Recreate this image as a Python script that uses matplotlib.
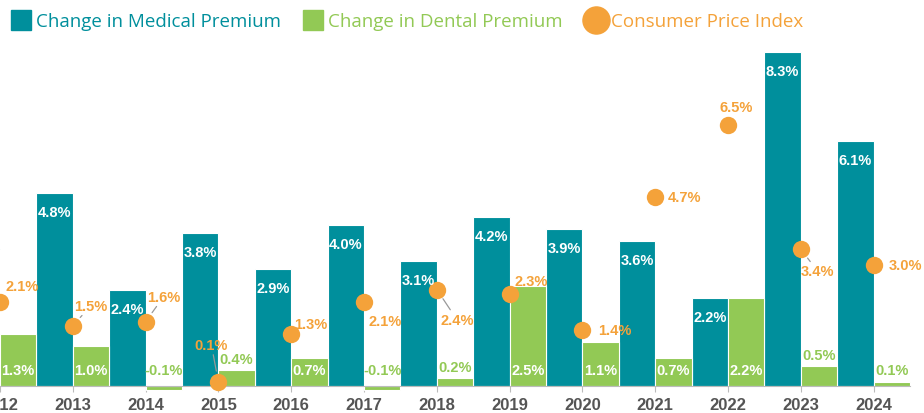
import matplotlib as mpl
mpl.use('Agg')
import matplotlib.pyplot as plt
from matplotlib.lines import Line2D
import numpy as np

years = ["2012", "2013", "2014", "2015", "2016", "2017", "2018",
         "2019", "2020", "2021", "2022", "2023", "2024"]
medical = [3.4, 4.8, 2.4, 3.8, 2.9, 4.0, 3.1, 4.2, 3.9, 3.6, 2.2, 8.3, 6.1]
dental = [1.3, 1.0, -0.1, 0.4, 0.7, -0.1, 0.2, 2.5, 1.1, 0.7, 2.2, 0.5, 0.1]
cpi = [2.1, 1.5, 1.6, 0.1, 1.3, 2.1, 2.4, 2.3, 1.4, 4.7, 6.5, 3.4, 3.0]

# label offsets in pixels for the CPI values, and which ones get a leader line
cpi_off = [(22, 16), (18, 20), (18, 25), (-7, 37), (20, 10), (21, -19), (20, -30),
           (22, 13), (32, 0), (29, 0), (8, 18), (17, -22), (32, 0)]
cpi_line = [False, True, True, True, False, False, True,
            False, False, False, False, True, False]

TEAL = "#008F9C"
GREEN = "#92C955"
ORANGE = "#F4A23A"
GREY = "#555555"

fig = plt.figure(figsize=(9.24, 4.14), dpi=100)
ax = fig.add_axes([0, 27 / 414, 910 / 924, 387 / 414])
x = np.arange(len(years))
w = 0.5
px = 40.2  # pixels per percent

ax.bar(x - w / 2, medical, w, color=TEAL, edgecolor="white", linewidth=0.8, zorder=2)
ax.bar(x + w / 2, dental, w, color=GREEN, edgecolor="white", linewidth=0.8, zorder=2, clip_on=False)
ax.plot(x, cpi, "o", color=ORANGE, markersize=12.5, markeredgewidth=0, zorder=4, clip_on=False)

lab = dict(fontsize=10.5, fontweight="bold", family="Liberation Sans", ha="center", va="center")
for i in range(len(years)):
    ax.annotate(f"{medical[i]:.1f}%", (x[i] - w / 2, medical[i]), xytext=(0, -19),
                textcoords="offset pixels", color="white", zorder=5, **lab)
    if dental[i] >= 0.6:
        ax.annotate(f"{dental[i]:.1f}%", (x[i] + w / 2, 0), xytext=(0, 16),
                    textcoords="offset pixels", color="white", zorder=5, **lab)
    else:
        up = max(16, max(dental[i], 0) * px + 11)
        ax.annotate(f"{dental[i]:.1f}%", (x[i] + w / 2, 0), xytext=(0, up),
                    textcoords="offset pixels", color=GREEN, zorder=5, **lab)
    dx, dy = cpi_off[i]
    arrow = dict(arrowstyle="-", color="#999999", lw=0.9, shrinkA=0, shrinkB=8) if cpi_line[i] else None
    ax.annotate(f"{cpi[i]:.1f}%", (x[i], cpi[i]), xytext=(dx, dy), textcoords="offset pixels",
                color=ORANGE, zorder=3, arrowprops=arrow, annotation_clip=False, **lab)

ax.set_xlim(0, 12.5)
ax.set_ylim(0, 387 / px)
for s in ["top", "right", "left"]:
    ax.spines[s].set_visible(False)
ax.spines["bottom"].set_color("#BBBBBB")
ax.spines["bottom"].set_zorder(3)
ax.set_yticks([])
ax.set_xticks(x)
ax.set_xticklabels(years, fontsize=12, fontweight="bold", family="Liberation Sans", color=GREY)
ax.tick_params(axis="x", length=4, color="#BBBBBB", pad=4)

handles = [
    Line2D([], [], marker="s", linestyle="", color=TEAL, markersize=15),
    Line2D([], [], marker="s", linestyle="", color=GREEN, markersize=15),
    Line2D([], [], marker="o", linestyle="", color=ORANGE, markersize=19.5),
]
leg = fig.legend(handles, ["Change in Medical Premium", "Change in Dental Premium", "Consumer Price Index"],
                 loc="upper left", bbox_to_anchor=(0.0, 0.995), ncol=3, frameon=False,
                 prop={"family": "Open Sans", "size": 13.5}, handlelength=1.0, handletextpad=0.3,
                 columnspacing=1.25, borderaxespad=0.2)
for t, c in zip(leg.get_texts(), [TEAL, GREEN, ORANGE]):
    t.set_color(c)

fig.savefig("out.png", dpi=100)
